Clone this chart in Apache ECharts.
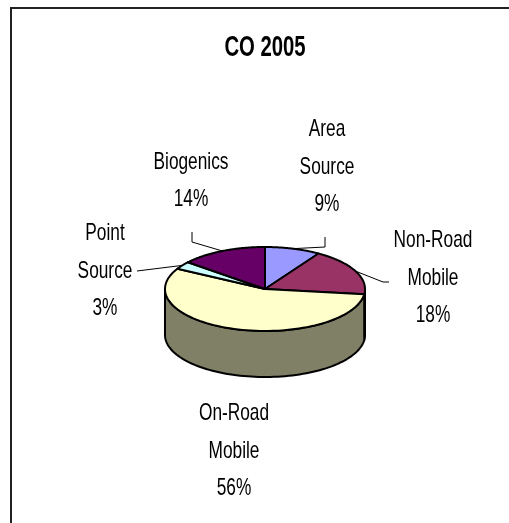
<!DOCTYPE html>
<html>
<head>
<meta charset="utf-8">
<script src="https://cdn.jsdelivr.net/npm/echarts@6/dist/echarts.min.js"></script>
<style>
html,body{margin:0;padding:0;background:#fff;}
#chart{width:509px;height:523px;}
</style>
</head>
<body>
<div id="chart"></div>
<script>
// ---- data ----
var categories = ['Area Source', 'Non-Road Mobile', 'On-Road Mobile', 'Point Source', 'Biogenics'];
var values = [9, 18, 56, 3, 14];
var titleText = 'CO 2005';

// ---- styles / layout ----
var topColors  = ['#9999FF', '#993366', '#FFFFCC', '#CCFFFF', '#660066'];
var sideColors = ['#4D4D80', '#4D1A33', '#808066', '#668080', '#330033'];
var labelPos = [[327, 167], [433, 278], [234, 451], [105, 271], [191, 181]];
var leaderPts = [[[325, 237], [325, 247]], [[389, 282], [383, 282]], null, [[137, 271]], [[192, 232], [192, 242]]];
var FONT = '"Liberation Sans", Arial, sans-serif';
var NARROW = 0.72;

var cx = 265, cy = 289, rx = 100, ry = 42, depth = 46;

var total = values.reduce(function (a, b) { return a + b; }, 0);
var starts = [];
(function () { var acc = 0; values.forEach(function (v) { starts.push(acc); acc += v; }); })();

function pt(theta, dy) {
  return [cx + rx * Math.sin(theta), cy - ry * Math.cos(theta) + (dy || 0)];
}

function renderItem(params, api) {
  var i = params.dataIndex;
  var v = api.value(0);
  var a = starts[i] / total * Math.PI * 2;
  var b = a + v / total * Math.PI * 2;
  var children = [];
  var n = 80, k, t;

  // side wall (front half only: 90deg..270deg)
  var sa = Math.max(a, Math.PI / 2), sb = Math.min(b, Math.PI * 1.5);
  if (sb > sa) {
    var side = [];
    for (k = 0; k <= n; k++) { t = sa + (sb - sa) * k / n; side.push(pt(t, 0)); }
    for (k = n; k >= 0; k--) { t = sa + (sb - sa) * k / n; side.push(pt(t, depth)); }
    children.push({ type: 'polygon', shape: { points: side }, style: { fill: sideColors[i], stroke: '#000', lineWidth: 2, lineJoin: 'round' } });
  }

  // top face
  var top = [[cx, cy]];
  for (k = 0; k <= n; k++) { t = a + (b - a) * k / n; top.push(pt(t, 0)); }
  children.push({ type: 'polygon', shape: { points: top }, style: { fill: topColors[i], stroke: '#000', lineWidth: 2, lineJoin: 'round' } });

  // leader line
  if (leaderPts[i]) {
    var mid = pt((a + b) / 2, 0);
    var pts = leaderPts[i].concat([mid]);
    children.push({ type: 'polyline', shape: { points: pts }, style: { stroke: '#000', lineWidth: 1, fill: null }, z2: 5 });
  }

  // label
  var txt = categories[i].replace(' ', '\n') + '\n' + Math.round(v / total * 100) + '%';
  children.push({
    type: 'text', z2: 10, x: labelPos[i][0], y: labelPos[i][1], scaleX: NARROW,
    style: { text: txt, x: 0, y: 0, align: 'center', verticalAlign: 'middle',
             fontFamily: FONT, fontSize: 24, lineHeight: 37.5, fill: '#000' }
  });
  return { type: 'group', children: children };
}

var chart = echarts.init(document.getElementById('chart'), null, { renderer: 'canvas' });
chart.setOption({
  backgroundColor: '#fff',
  animation: false,
  graphic: [{
    type: 'rect', shape: { x: 11, y: 8, width: 600, height: 600 },
    style: { fill: null, stroke: '#222', lineWidth: 2 }, silent: true, z: -1
  }, {
    type: 'text', x: 265, y: 48, scaleX: 0.70, silent: true,
    style: { text: titleText, x: 0, y: 0, align: 'center', verticalAlign: 'middle',
             fontFamily: FONT, fontWeight: 'bold', fontSize: 29, fill: '#000' }
  }],
  series: [{
    type: 'custom',
    coordinateSystem: 'none',
    renderItem: renderItem,
    data: values.map(function (v, i) { return { name: categories[i], value: [v] }; })
  }]
});
</script>
</body>
</html>
